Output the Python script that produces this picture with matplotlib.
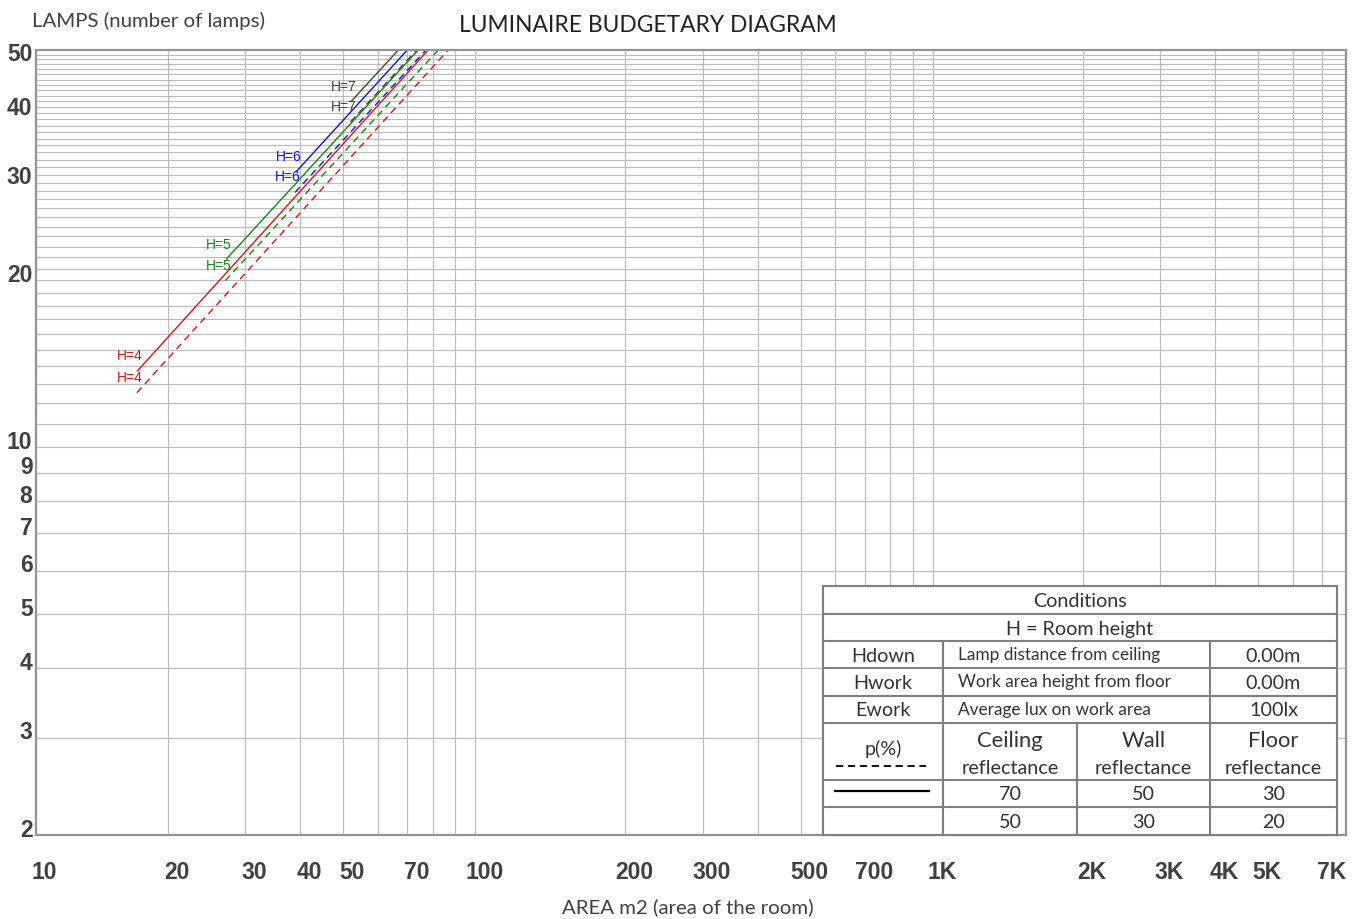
import numpy as np
import matplotlib
matplotlib.use("Agg")
import matplotlib.pyplot as plt
from matplotlib import transforms as mtransforms
from matplotlib.ticker import NullLocator

# ---------------- data ----------------
series_labels = ["H=4", "H=5", "H=6", "H=7"]
series_colors = ["#dd1111", "#118811", "#1111dd", "#444444"]

# solid: ceiling 70 / wall 50 / floor 30
solid_area_start = [17.0, 27.1, 39.0, 52.0]
solid_lamps_start = [13.7, 21.8, 31.3, 41.9]
solid_area_end = [78.1, 74.1, 70.0, 66.8]
# dashed: ceiling 50 / wall 30 / floor 20
dashed_area_start = [17.0, 27.0, 38.9, 52.0]
dashed_lamps_start = [12.55, 19.97, 28.8, 38.6]
dashed_area_end = [86.7, 82.3, 77.2, 73.5]
lamps_end = 52.0

x_grid = [20, 30, 40, 50, 60, 70, 80, 90, 100, 200, 300, 400, 500, 600, 700,
          800, 900, 1000, 2000, 3000, 4000, 5000, 6000, 7000]
x_tick_values = [10, 20, 30, 40, 50, 70, 100, 200, 300, 500, 700, 1000, 2000,
                 3000, 4000, 5000, 7000]
x_tick_labels = ["10", "20", "30", "40", "50", "70", "100", "200", "300", "500",
                 "700", "1K", "2K", "3K", "4K", "5K", "7K"]
y_grid = list(range(3, 52))
y_tick_values = [2, 3, 4, 5, 6, 7, 8, 9, 10, 20, 30, 40, 50]
y_tick_labels = [str(v) for v in y_tick_values]

cond_rows = [("Hdown", "Lamp distance from ceiling", "0.00m"),
             ("Hwork", "Work area height from floor", "0.00m"),
             ("Ework", "Average lux on work area", "100lx")]
refl_headers = ["Ceiling", "Wall", "Floor"]
refl_solid = ["70", "50", "30"]
refl_dashed = ["50", "30", "20"]

# ---------------- custom x scale (as in the original graph paper) ----------------
DEC = 440.0
SEG12 = 150.0
DECW = SEG12 + DEC * np.log10(5.0)


def fwd(x):
    with np.errstate(all="ignore"):
        x = np.asarray(x, float)
        L = np.log10(np.clip(x, 1e-9, None))
        p_low = DEC * (L - 1)
        d = np.floor(L)
        m = 10 ** (L - d)
        base = DEC + (d - 2) * DECW
        r = np.where(m < 2, SEG12 * np.log2(np.clip(m, 1, None)),
                     SEG12 + DEC * np.log10(np.clip(m, 1e-9, None) / 2))
        return np.where(L <= 2, p_low, base + r)


def inv(p):
    with np.errstate(all="ignore"):
        p = np.asarray(p, float)
        x_low = 10 ** (p / DEC + 1)
        q = p - DEC
        k = np.floor(q / DECW)
        r = q - k * DECW
        m = np.where(r < SEG12, 2 ** (r / SEG12), 2 * 10 ** ((r - SEG12) / DEC))
        return np.where(p <= DEC, x_low, m * 10 ** (k + 2))


# ---------------- figure ----------------
W, H = 1370, 919
fig = plt.figure(figsize=(W / 100, H / 100), dpi=100)
ax = fig.add_axes([35.5 / W, 1 - 835.3 / H, (1346 - 35.5) / W, (835.3 - 50) / H])
ax.set_xscale("function", functions=(fwd, inv))
ax.set_yscale("log")
ax.set_xlim(10, 7920)
ax.set_ylim(2, 52)
ax.set_xticks(x_grid)
ax.set_yticks(y_grid)
ax.xaxis.set_minor_locator(NullLocator())
ax.yaxis.set_minor_locator(NullLocator())
ax.tick_params(length=0, labelbottom=False, labelleft=False)
ax.grid(True, color="#bbbbbb", lw=0.8)
ax.set_axisbelow(True)
for s in ax.spines.values():
    s.set_color("#939393")
    s.set_linewidth(1.6)

dash = (0, (5, 3.5))
for i in range(4):
    c = series_colors[i]
    ax.plot([solid_area_start[i], solid_area_end[i]],
            [solid_lamps_start[i], lamps_end], color=c, lw=1.0, solid_capstyle="butt")
    ax.plot([dashed_area_start[i], dashed_area_end[i]],
            [dashed_lamps_start[i], lamps_end], color=c, lw=1.0, linestyle=dash)
    for xs, ys in ((solid_area_start[i], solid_lamps_start[i]),
                   (dashed_area_start[i], dashed_lamps_start[i])):
        ax.annotate(series_labels[i], xy=(xs, ys), xytext=(6, 15),
                    textcoords="offset pixels", ha="right", va="center",
                    color=c, fontsize=10, family="Liberation Sans")

# tick labels
tick_font = dict(family="Liberation Sans", fontweight="bold", fontsize=16.5, color="#404040")
bx = mtransforms.blended_transform_factory(ax.transData, ax.transAxes)
xoff = mtransforms.ScaledTranslation(9 / 100, -37 / 100, fig.dpi_scale_trans)
for v, lab in zip(x_tick_values, x_tick_labels):
    ax.text(v, 0, lab, transform=bx + xoff, ha="center", va="center", **tick_font)
by = mtransforms.blended_transform_factory(ax.transAxes, ax.transData)
yoff = mtransforms.ScaledTranslation(-3 / 100, 5 / 100, fig.dpi_scale_trans)
for v, lab in zip(y_tick_values, y_tick_labels):
    ax.text(0, v, lab, transform=by + yoff, ha="right", va="center", **tick_font)

# titles
txt_font = "Lato"
fig.text(648 / W, 1 - 25 / H, "LUMINAIRE BUDGETARY DIAGRAM", ha="center", va="center",
         fontsize=16.4, family=txt_font, color="#222222")
fig.text(32 / W, 1 - 20.5 / H, "LAMPS (number of lamps)", ha="left", va="center",
         fontsize=14.7, family=txt_font, color="#404040")
fig.text(688 / W, 1 - 907 / H, "AREA m2 (area of the room)", ha="center", va="center",
         fontsize=14.7, family=txt_font, color="#404040")

# ---------------- conditions table (overlay in pixel coordinates) ----------------
ov = fig.add_axes([0, 0, 1, 1], zorder=5)
ov.set_xlim(0, W)
ov.set_ylim(H, 0)
ov.axis("off")
ov.patch.set_alpha(0)

L0, C1, C2, C3, R0 = 823, 943, 1077, 1210, 1337
rows_y = [586, 614, 641, 668, 696, 723, 780, 807, 835]
ov.add_patch(plt.Rectangle((L0, rows_y[0]), R0 - L0, rows_y[-1] - rows_y[0],
                           facecolor="white", edgecolor="none"))
lc = "#7f7f7f"
lw_t = 1.5
for yy in rows_y:
    ov.plot([L0, R0], [yy, yy], color=lc, lw=lw_t)
ov.plot([L0, L0], [rows_y[0], rows_y[-1]], color=lc, lw=lw_t)
ov.plot([R0, R0], [rows_y[0], rows_y[-1]], color=lc, lw=lw_t)
ov.plot([C1, C1], [rows_y[2], rows_y[-1]], color=lc, lw=lw_t)
ov.plot([C3, C3], [rows_y[2], rows_y[-1]], color=lc, lw=lw_t)
ov.plot([C2, C2], [rows_y[5], rows_y[-1]], color=lc, lw=lw_t)

tc = "#333333"
fs = 14.2
ov.text((L0 + R0) / 2, (rows_y[0] + rows_y[1]) / 2 + 1.5, "Conditions", ha="center", va="center",
        fontsize=fs, family=txt_font, color=tc)
ov.text((L0 + R0) / 2, (rows_y[1] + rows_y[2]) / 2 + 1.5, "H = Room height", ha="center", va="center",
        fontsize=fs, family=txt_font, color=tc)
for k, (a, b, c) in enumerate(cond_rows):
    yc = (rows_y[2 + k] + rows_y[3 + k]) / 2 + 1.5
    ov.text((L0 + C1) / 2, yc, a, ha="center", va="center", fontsize=fs, family=txt_font, color=tc)
    ov.text(958, yc - 1, b, ha="left", va="center", fontsize=12.4, family=txt_font, color=tc)
    ov.text((C3 + R0) / 2, yc, c, ha="center", va="center", fontsize=fs, family=txt_font, color=tc)

ov.text((L0 + C1) / 2, 749, "p(%)", ha="center", va="center", fontsize=fs, family=txt_font, color=tc)
ov.plot([836, 926], [766, 766], color="black", lw=1.3, linestyle=(0, (4, 2.6)))
ov.plot([835, 929], [791, 791], color="black", lw=1.6)
centers = [(C1 + C2) / 2, (C2 + C3) / 2, (C3 + R0) / 2]
for cx, hd, s1, s2 in zip(centers, refl_headers, refl_solid, refl_dashed):
    ov.text(cx, 741, hd, ha="center", va="center", fontsize=15.8, family=txt_font, color=tc)
    ov.text(cx, 768, "reflectance", ha="center", va="center", fontsize=fs, family=txt_font, color=tc)
    ov.text(cx, 795, s1, ha="center", va="center", fontsize=fs, family=txt_font, color=tc)
    ov.text(cx, 822, s2, ha="center", va="center", fontsize=fs, family=txt_font, color=tc)

fig.savefig("out.png", dpi=100)
